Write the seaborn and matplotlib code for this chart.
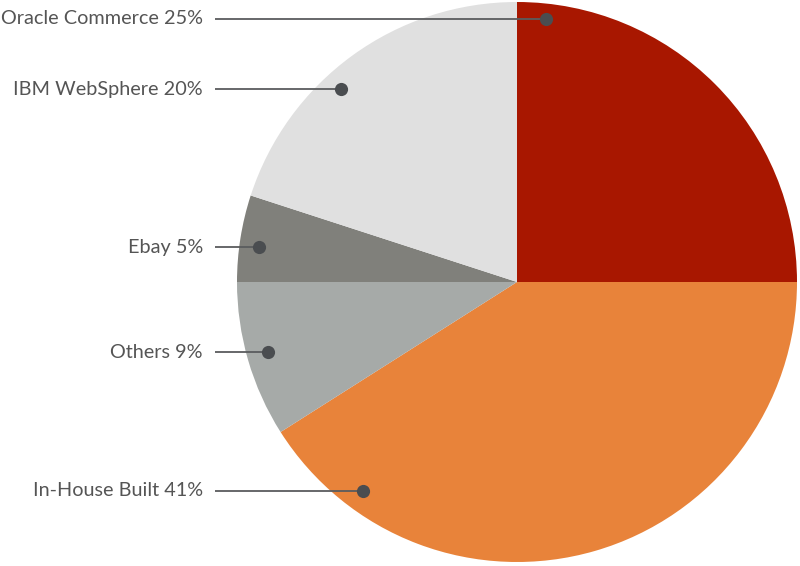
import matplotlib
matplotlib.use("Agg")
import matplotlib.pyplot as plt
import seaborn as sns

sns.set_theme(style="white")
plt.rcParams["font.family"] = ["Lato", "DejaVu Sans"]

# slices, clockwise from 12 o'clock
platforms = ["Oracle Commerce", "In-House Built", "Others", "Ebay", "IBM WebSphere"]
shares = [25, 41, 9, 5, 20]
colors = ["#A81700", "#E8833A", "#A6AAA8", "#80807B", "#E0E0E0"]

# callout layout (pixels from top-left of the 800x566 canvas)
label_y = [19, 491, 352, 247, 89]
dot_x = [546, 363, 268, 259, 341]

fig = plt.figure(figsize=(8, 5.66), dpi=100)
ax = fig.add_axes([0, 0, 1, 1])
ax.pie(shares, colors=colors, startangle=90, counterclock=False,
       center=(517, 566 - 282), radius=280, frame=True,
       wedgeprops=dict(linewidth=0))
ax.set_xlim(0, 800)
ax.set_ylim(0, 566)
ax.set_aspect("equal")
ax.axis("off")

for name, pct, y, x in zip(platforms, shares, label_y, dot_x):
    yy = 566 - y
    ax.plot([215, x], [yy, yy], color="#5A5C5E", lw=1.3, solid_capstyle="butt")
    ax.scatter([x], [yy], s=90, color="#4A4D50", zorder=5, linewidths=0)
    ax.text(203, yy, f"{name} {pct}%", ha="right", va="center",
            fontsize=14.3, color="#555555")

fig.savefig("out.png", dpi=100)
